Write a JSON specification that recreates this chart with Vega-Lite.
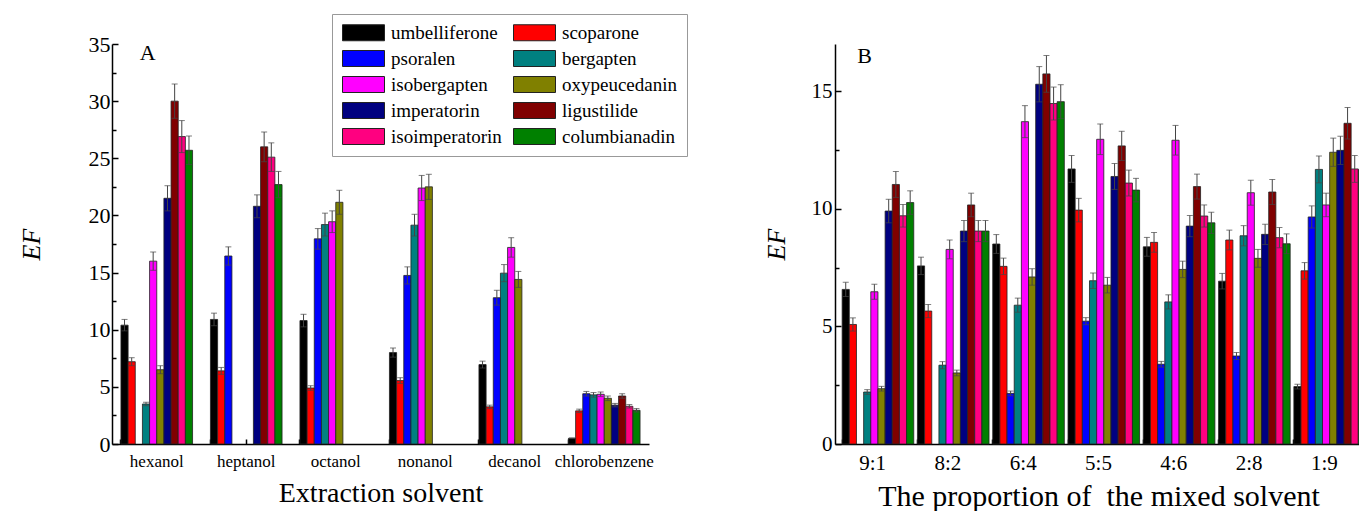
{
  "$schema": "https://vega.github.io/schema/vega-lite/v6.json",
  "padding": {"left": 18, "top": 13, "right": 0, "bottom": 0},
  "config": {
    "font": "Liberation Serif",
    "view": {"stroke": null},
    "axis": {"domainColor": "#000", "domainWidth": 1.5, "tickColor": "#000", "tickWidth": 1.5, "labelColor": "#000", "titleColor": "#000", "labelFont": "Liberation Serif", "titleFont": "Liberation Serif", "titleFontWeight": "normal", "grid": false},
    "legend": {"labelFont": "Liberation Serif", "labelFontSize": 19, "labelColor": "#000"},
    "text": {"font": "Liberation Serif"}
  },
  "datasets": {
    "a": [
      {"solvent": "hexanol", "compound": "umbelliferone", "EF": 10.4, "sd": 0.5},
      {"solvent": "hexanol", "compound": "scoparone", "EF": 7.2, "sd": 0.35},
      {"solvent": "hexanol", "compound": "bergapten", "EF": 3.5, "sd": 0.15},
      {"solvent": "hexanol", "compound": "isobergapten", "EF": 16.0, "sd": 0.8},
      {"solvent": "hexanol", "compound": "oxypeucedanin", "EF": 6.5, "sd": 0.35},
      {"solvent": "hexanol", "compound": "imperatorin", "EF": 21.5, "sd": 1.1},
      {"solvent": "hexanol", "compound": "ligustilide", "EF": 30.0, "sd": 1.5},
      {"solvent": "hexanol", "compound": "isoimperatorin", "EF": 26.9, "sd": 1.4},
      {"solvent": "hexanol", "compound": "columbianadin", "EF": 25.7, "sd": 1.25},
      {"solvent": "heptanol", "compound": "umbelliferone", "EF": 10.9, "sd": 0.55},
      {"solvent": "heptanol", "compound": "scoparone", "EF": 6.4, "sd": 0.3},
      {"solvent": "heptanol", "compound": "psoralen", "EF": 16.45, "sd": 0.8},
      {"solvent": "heptanol", "compound": "imperatorin", "EF": 20.8, "sd": 1.0},
      {"solvent": "heptanol", "compound": "ligustilide", "EF": 26.0, "sd": 1.3},
      {"solvent": "heptanol", "compound": "isoimperatorin", "EF": 25.1, "sd": 1.25},
      {"solvent": "heptanol", "compound": "columbianadin", "EF": 22.7, "sd": 1.15},
      {"solvent": "octanol", "compound": "umbelliferone", "EF": 10.8, "sd": 0.55},
      {"solvent": "octanol", "compound": "scoparone", "EF": 4.9, "sd": 0.2},
      {"solvent": "octanol", "compound": "psoralen", "EF": 17.95, "sd": 0.9},
      {"solvent": "octanol", "compound": "bergapten", "EF": 19.2, "sd": 1.0},
      {"solvent": "octanol", "compound": "isobergapten", "EF": 19.45, "sd": 0.95},
      {"solvent": "octanol", "compound": "oxypeucedanin", "EF": 21.15, "sd": 1.05},
      {"solvent": "nonanol", "compound": "umbelliferone", "EF": 8.0, "sd": 0.4},
      {"solvent": "nonanol", "compound": "scoparone", "EF": 5.55, "sd": 0.25},
      {"solvent": "nonanol", "compound": "psoralen", "EF": 14.75, "sd": 0.75},
      {"solvent": "nonanol", "compound": "bergapten", "EF": 19.15, "sd": 0.95},
      {"solvent": "nonanol", "compound": "isobergapten", "EF": 22.4, "sd": 1.1},
      {"solvent": "nonanol", "compound": "oxypeucedanin", "EF": 22.5, "sd": 1.1},
      {"solvent": "decanol", "compound": "umbelliferone", "EF": 6.95, "sd": 0.3},
      {"solvent": "decanol", "compound": "scoparone", "EF": 3.25, "sd": 0.15},
      {"solvent": "decanol", "compound": "psoralen", "EF": 12.8, "sd": 0.65},
      {"solvent": "decanol", "compound": "bergapten", "EF": 14.95, "sd": 0.75},
      {"solvent": "decanol", "compound": "isobergapten", "EF": 17.2, "sd": 0.85},
      {"solvent": "decanol", "compound": "oxypeucedanin", "EF": 14.4, "sd": 0.7},
      {"solvent": "chlorobenzene", "compound": "umbelliferone", "EF": 0.5, "sd": 0.03},
      {"solvent": "chlorobenzene", "compound": "scoparone", "EF": 2.9, "sd": 0.15},
      {"solvent": "chlorobenzene", "compound": "psoralen", "EF": 4.4, "sd": 0.2},
      {"solvent": "chlorobenzene", "compound": "bergapten", "EF": 4.3, "sd": 0.2},
      {"solvent": "chlorobenzene", "compound": "isobergapten", "EF": 4.35, "sd": 0.2},
      {"solvent": "chlorobenzene", "compound": "oxypeucedanin", "EF": 4.0, "sd": 0.2},
      {"solvent": "chlorobenzene", "compound": "imperatorin", "EF": 3.4, "sd": 0.15},
      {"solvent": "chlorobenzene", "compound": "ligustilide", "EF": 4.2, "sd": 0.2},
      {"solvent": "chlorobenzene", "compound": "isoimperatorin", "EF": 3.3, "sd": 0.15},
      {"solvent": "chlorobenzene", "compound": "columbianadin", "EF": 2.95, "sd": 0.15}
    ],
    "b": [
      {"ratio": "9:1", "compound": "umbelliferone", "EF": 6.57, "sd": 0.3},
      {"ratio": "9:1", "compound": "scoparone", "EF": 5.08, "sd": 0.28},
      {"ratio": "9:1", "compound": "bergapten", "EF": 2.21, "sd": 0.1},
      {"ratio": "9:1", "compound": "isobergapten", "EF": 6.47, "sd": 0.32},
      {"ratio": "9:1", "compound": "oxypeucedanin", "EF": 2.35, "sd": 0.1},
      {"ratio": "9:1", "compound": "imperatorin", "EF": 9.9, "sd": 0.5},
      {"ratio": "9:1", "compound": "ligustilide", "EF": 11.03, "sd": 0.55},
      {"ratio": "9:1", "compound": "isoimperatorin", "EF": 9.7, "sd": 0.48},
      {"ratio": "9:1", "compound": "columbianadin", "EF": 10.26, "sd": 0.5},
      {"ratio": "8:2", "compound": "umbelliferone", "EF": 7.57, "sd": 0.37},
      {"ratio": "8:2", "compound": "scoparone", "EF": 5.65, "sd": 0.28},
      {"ratio": "8:2", "compound": "bergapten", "EF": 3.35, "sd": 0.15},
      {"ratio": "8:2", "compound": "isobergapten", "EF": 8.27, "sd": 0.4},
      {"ratio": "8:2", "compound": "oxypeucedanin", "EF": 3.02, "sd": 0.12},
      {"ratio": "8:2", "compound": "imperatorin", "EF": 9.05, "sd": 0.45},
      {"ratio": "8:2", "compound": "ligustilide", "EF": 10.16, "sd": 0.5},
      {"ratio": "8:2", "compound": "isoimperatorin", "EF": 9.05, "sd": 0.45},
      {"ratio": "8:2", "compound": "columbianadin", "EF": 9.05, "sd": 0.45},
      {"ratio": "6:4", "compound": "umbelliferone", "EF": 8.5, "sd": 0.4},
      {"ratio": "6:4", "compound": "scoparone", "EF": 7.55, "sd": 0.35},
      {"ratio": "6:4", "compound": "psoralen", "EF": 2.15, "sd": 0.1},
      {"ratio": "6:4", "compound": "bergapten", "EF": 5.9, "sd": 0.3},
      {"ratio": "6:4", "compound": "isobergapten", "EF": 13.7, "sd": 0.68},
      {"ratio": "6:4", "compound": "oxypeucedanin", "EF": 7.1, "sd": 0.35},
      {"ratio": "6:4", "compound": "imperatorin", "EF": 15.29, "sd": 0.75},
      {"ratio": "6:4", "compound": "ligustilide", "EF": 15.73, "sd": 0.78},
      {"ratio": "6:4", "compound": "isoimperatorin", "EF": 14.47, "sd": 0.7},
      {"ratio": "6:4", "compound": "columbianadin", "EF": 14.55, "sd": 0.72},
      {"ratio": "5:5", "compound": "umbelliferone", "EF": 11.69, "sd": 0.57},
      {"ratio": "5:5", "compound": "scoparone", "EF": 9.94, "sd": 0.5},
      {"ratio": "5:5", "compound": "psoralen", "EF": 5.22, "sd": 0.15},
      {"ratio": "5:5", "compound": "bergapten", "EF": 6.94, "sd": 0.33},
      {"ratio": "5:5", "compound": "isobergapten", "EF": 12.95, "sd": 0.65},
      {"ratio": "5:5", "compound": "oxypeucedanin", "EF": 6.75, "sd": 0.33},
      {"ratio": "5:5", "compound": "imperatorin", "EF": 11.37, "sd": 0.55},
      {"ratio": "5:5", "compound": "ligustilide", "EF": 12.67, "sd": 0.62},
      {"ratio": "5:5", "compound": "isoimperatorin", "EF": 11.09, "sd": 0.55},
      {"ratio": "5:5", "compound": "columbianadin", "EF": 10.79, "sd": 0.5},
      {"ratio": "4:6", "compound": "umbelliferone", "EF": 8.38, "sd": 0.4},
      {"ratio": "4:6", "compound": "scoparone", "EF": 8.57, "sd": 0.42},
      {"ratio": "4:6", "compound": "psoralen", "EF": 3.39, "sd": 0.12},
      {"ratio": "4:6", "compound": "bergapten", "EF": 6.04, "sd": 0.3},
      {"ratio": "4:6", "compound": "isobergapten", "EF": 12.91, "sd": 0.63},
      {"ratio": "4:6", "compound": "oxypeucedanin", "EF": 7.42, "sd": 0.35},
      {"ratio": "4:6", "compound": "imperatorin", "EF": 9.26, "sd": 0.45},
      {"ratio": "4:6", "compound": "ligustilide", "EF": 10.94, "sd": 0.53},
      {"ratio": "4:6", "compound": "isoimperatorin", "EF": 9.69, "sd": 0.47},
      {"ratio": "4:6", "compound": "columbianadin", "EF": 9.4, "sd": 0.45},
      {"ratio": "2:8", "compound": "umbelliferone", "EF": 6.92, "sd": 0.33},
      {"ratio": "2:8", "compound": "scoparone", "EF": 8.67, "sd": 0.42},
      {"ratio": "2:8", "compound": "psoralen", "EF": 3.74, "sd": 0.15},
      {"ratio": "2:8", "compound": "bergapten", "EF": 8.85, "sd": 0.43},
      {"ratio": "2:8", "compound": "isobergapten", "EF": 10.68, "sd": 0.53},
      {"ratio": "2:8", "compound": "oxypeucedanin", "EF": 7.89, "sd": 0.38},
      {"ratio": "2:8", "compound": "imperatorin", "EF": 8.91, "sd": 0.43},
      {"ratio": "2:8", "compound": "ligustilide", "EF": 10.71, "sd": 0.53},
      {"ratio": "2:8", "compound": "isoimperatorin", "EF": 8.77, "sd": 0.43},
      {"ratio": "2:8", "compound": "columbianadin", "EF": 8.51, "sd": 0.42},
      {"ratio": "1:9", "compound": "umbelliferone", "EF": 2.44, "sd": 0.1},
      {"ratio": "1:9", "compound": "scoparone", "EF": 7.36, "sd": 0.35},
      {"ratio": "1:9", "compound": "psoralen", "EF": 9.65, "sd": 0.47},
      {"ratio": "1:9", "compound": "bergapten", "EF": 11.67, "sd": 0.57},
      {"ratio": "1:9", "compound": "isobergapten", "EF": 10.16, "sd": 0.5},
      {"ratio": "1:9", "compound": "oxypeucedanin", "EF": 12.4, "sd": 0.6},
      {"ratio": "1:9", "compound": "imperatorin", "EF": 12.48, "sd": 0.6},
      {"ratio": "1:9", "compound": "ligustilide", "EF": 13.63, "sd": 0.67},
      {"ratio": "1:9", "compound": "isoimperatorin", "EF": 11.69, "sd": 0.57},
      {"ratio": "1:9", "compound": "columbianadin", "EF": 11.65, "sd": 0.57}
    ]
  },
  "resolve": {"scale": {"color": "independent", "x": "independent", "y": "independent"}, "legend": {"color": "independent"}},
  "spacing": 75,
  "hconcat": [
    {
      "width": 537,
      "height": 400,
      "data": {"name": "a"},
      "resolve": {"axis": {"x": "independent", "y": "independent"}},
      "layer": [
        {
          "mark": {"type": "bar", "stroke": "#222", "strokeWidth": 0.8},
          "encoding": {
            "x": {"field": "solvent", "type": "nominal", "sort": ["hexanol", "heptanol", "octanol", "nonanol", "decanol", "chlorobenzene"],
              "scale": {"paddingInner": 0.2, "paddingOuter": 0.1},
              "axis": {"orient": "bottom", "title": "Extraction solvent", "titleFont": "Liberation Serif", "titleFontSize": 28, "titlePadding": 10, "labelFont": "Liberation Serif", "labelFontSize": 17, "labelAngle": 0, "labelPadding": 14, "tickSize": -5}},
            "xOffset": {"field": "compound", "type": "nominal", "scale": {"domain": ["umbelliferone", "scoparone", "psoralen", "bergapten", "isobergapten", "oxypeucedanin", "imperatorin", "ligustilide", "isoimperatorin", "columbianadin"]}},
            "y": {"field": "EF", "type": "quantitative", "scale": {"domain": [0, 35], "nice": false},
              "axis": {"orient": "left", "title": "EF", "titleFont": "Liberation Serif", "titleFontSize": 26, "titleFontStyle": "italic", "titlePadding": 44, "labelFont": "Liberation Serif", "labelFontSize": 22, "labelPadding": 8, "tickSize": -6, "values": [0, 5, 10, 15, 20, 25, 30, 35]}},
            "color": {"field": "compound", "type": "nominal",
              "scale": {"domain": ["umbelliferone", "psoralen", "isobergapten", "imperatorin", "isoimperatorin", "scoparone", "bergapten", "oxypeucedanin", "ligustilide", "columbianadin"],
                "range": ["#000000", "#0000ff", "#ff00ff", "#000080", "#ff0080", "#ff0000", "#008080", "#808000", "#800000", "#008000"]},
              "legend": {"orient": "none", "legendX": 220, "legendY": -30, "columns": 2, "title": null, "symbolType": "M-1,-1H4.25V1H-1Z", "symbolSize": 256, "symbolStrokeColor": "#222", "symbolStrokeWidth": 1, "labelFont": "Liberation Serif", "labelFontSize": 19, "labelOffset": 31, "rowPadding": 5, "columnPadding": 9, "padding": 9, "strokeColor": "#999", "fillColor": "#fff"}}
          }
        },
        {
          "mark": {"type": "errorbar", "ticks": {"size": 6, "color": "#444", "strokeWidth": 1}, "rule": {"color": "#444", "strokeWidth": 1}},
          "encoding": {
            "x": {"field": "solvent", "type": "nominal", "sort": ["hexanol", "heptanol", "octanol", "nonanol", "decanol", "chlorobenzene"],
              "axis": {"orient": "bottom", "bandPosition": 0, "labels": false, "domain": false, "title": null, "tickSize": -5}},
            "xOffset": {"field": "compound", "type": "nominal", "scale": {"domain": ["umbelliferone", "scoparone", "psoralen", "bergapten", "isobergapten", "oxypeucedanin", "imperatorin", "ligustilide", "isoimperatorin", "columbianadin"]}},
            "y": {"field": "EF", "type": "quantitative",
              "axis": {"orient": "left", "labels": false, "domain": false, "title": null, "tickSize": -4, "values": [2.5, 7.5, 12.5, 17.5, 22.5, 27.5, 32.5]}},
            "yError": {"field": "sd"}
          }
        },
        {
          "data": {"values": [{"panel": "A"}]},
          "mark": {"type": "text", "fontSize": 22, "font": "Liberation Serif", "dx": -9, "align": "center", "baseline": "middle"},
          "encoding": {
            "x": {"datum": "hexanol", "type": "nominal", "axis": null},
            "y": {"datum": 34.2, "type": "quantitative", "axis": null},
            "text": {"field": "panel"}
          }
        }
      ]
    },
    {
      "width": 527,
      "height": 400,
      "data": {"name": "b"},
      "resolve": {"axis": {"x": "independent", "y": "independent"}},
      "layer": [
        {
          "mark": {"type": "bar", "stroke": "#222", "strokeWidth": 0.8},
          "encoding": {
            "x": {"field": "ratio", "type": "nominal", "sort": ["9:1", "8:2", "6:4", "5:5", "4:6", "2:8", "1:9"],
              "scale": {"paddingInner": 0.19, "paddingOuter": 0.095},
              "axis": {"orient": "bottom", "title": "The proportion of\u00a0 the mixed solvent", "titleFont": "Liberation Serif", "titleFontSize": 30, "titlePadding": 8, "labelFont": "Liberation Serif", "labelFontSize": 21, "labelAngle": 0, "labelPadding": 8, "ticks": false}},
            "xOffset": {"field": "compound", "type": "nominal", "scale": {"domain": ["umbelliferone", "scoparone", "psoralen", "bergapten", "isobergapten", "oxypeucedanin", "imperatorin", "ligustilide", "isoimperatorin", "columbianadin"]}},
            "y": {"field": "EF", "type": "quantitative", "scale": {"domain": [0, 17], "nice": false},
              "axis": {"orient": "left", "title": "EF", "titleFont": "Liberation Serif", "titleFontSize": 26, "titleFontStyle": "italic", "titlePadding": 22, "labelFont": "Liberation Serif", "labelFontSize": 21, "labelPadding": 9, "tickSize": -6, "values": [0, 5, 10, 15]}},
            "color": {"field": "compound", "type": "nominal",
              "scale": {"domain": ["umbelliferone", "scoparone", "psoralen", "bergapten", "isobergapten", "oxypeucedanin", "imperatorin", "ligustilide", "isoimperatorin", "columbianadin"],
                "range": ["#000000", "#ff0000", "#0000ff", "#008080", "#ff00ff", "#808000", "#000080", "#800000", "#ff0080", "#008000"]},
              "legend": null}
          }
        },
        {
          "mark": {"type": "errorbar", "ticks": {"size": 6, "color": "#444", "strokeWidth": 1}, "rule": {"color": "#444", "strokeWidth": 1}},
          "encoding": {
            "x": {"field": "ratio", "type": "nominal", "sort": ["9:1", "8:2", "6:4", "5:5", "4:6", "2:8", "1:9"],
              "axis": {"orient": "bottom", "bandPosition": 0, "labels": false, "domain": false, "title": null, "tickSize": -5}},
            "xOffset": {"field": "compound", "type": "nominal", "scale": {"domain": ["umbelliferone", "scoparone", "psoralen", "bergapten", "isobergapten", "oxypeucedanin", "imperatorin", "ligustilide", "isoimperatorin", "columbianadin"]}},
            "y": {"field": "EF", "type": "quantitative",
              "axis": {"orient": "left", "labels": false, "domain": false, "title": null, "tickSize": -4, "values": [2.5, 7.5, 12.5]}},
            "yError": {"field": "sd"}
          }
        },
        {
          "data": {"values": [{"panel": "B"}]},
          "mark": {"type": "text", "fontSize": 22, "font": "Liberation Serif", "dx": -8, "align": "center", "baseline": "middle"},
          "encoding": {
            "x": {"datum": "9:1", "type": "nominal", "axis": null},
            "y": {"datum": 16.5, "type": "quantitative", "axis": null},
            "text": {"field": "panel"}
          }
        }
      ]
    }
  ]
}
